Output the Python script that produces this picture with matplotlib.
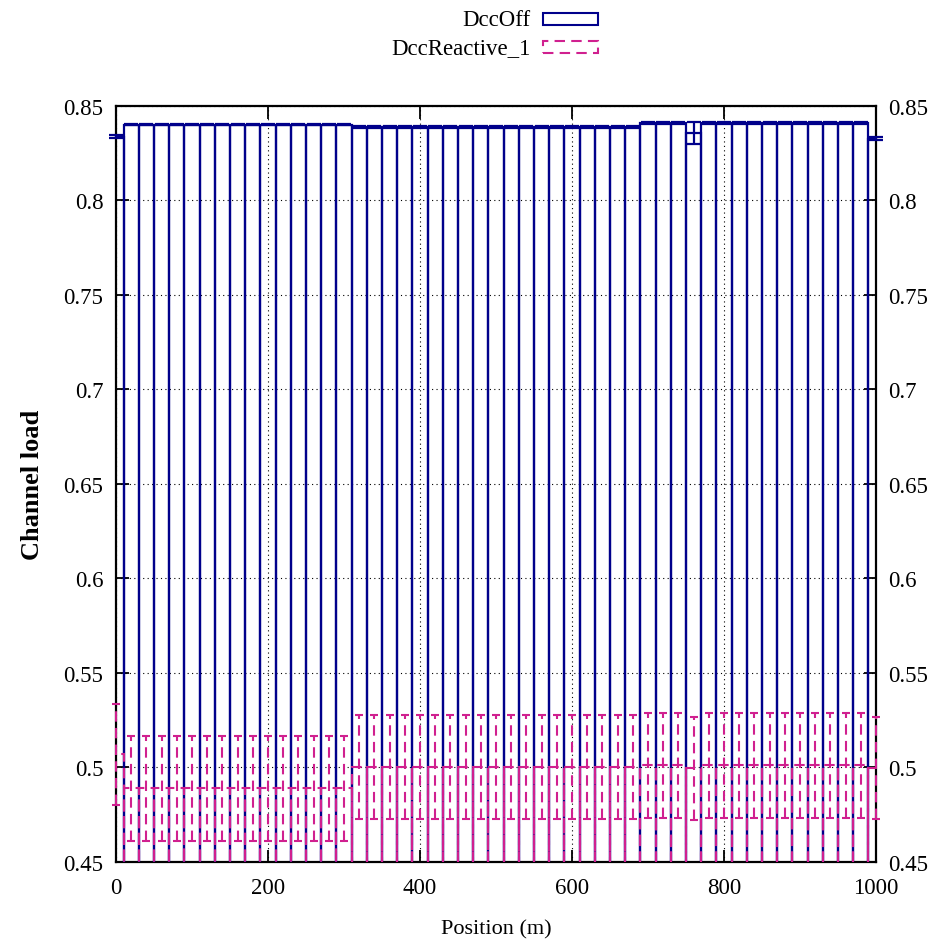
import numpy as np
import matplotlib.pyplot as plt
from matplotlib.patches import Rectangle

plt.rcParams['font.family'] = ['Liberation Serif', 'DejaVu Serif']

# DATA
positions = [0, 20, 40, 60, 80, 100, 120, 140, 160, 180,
             200, 220, 240, 260, 280, 300, 320, 340, 360, 380,
             400, 420, 440, 460, 480, 500, 520, 540, 560, 580,
             600, 620, 640, 660, 680, 700, 720, 740, 760, 780,
             800, 820, 840, 860, 880, 900, 920, 940, 960, 980,
             1000]

dcc_off = [0.8336,
           0.8401, 0.8401, 0.8401, 0.8401, 0.8401, 0.8401, 0.8401, 0.8401,
           0.8401, 0.8401, 0.8401, 0.8401, 0.8401, 0.8401, 0.8401,
           0.8388, 0.8388, 0.8388, 0.8388, 0.8388, 0.8388, 0.8388, 0.8388,
           0.8388, 0.8388, 0.8388, 0.8388, 0.8388, 0.8388, 0.8388, 0.8388,
           0.8388, 0.8388, 0.8388,
           0.8409, 0.8409, 0.8409,
           0.8356,
           0.8409, 0.8409, 0.8409, 0.8409, 0.8409, 0.8409, 0.8409, 0.8409,
           0.8409, 0.8409, 0.8409,
           0.8327]
dcc_off_err = [0.0008,
               0.0004, 0.0004, 0.0004, 0.0004, 0.0004, 0.0004, 0.0004, 0.0004,
               0.0004, 0.0004, 0.0004, 0.0004, 0.0004, 0.0004, 0.0004,
               0.0004, 0.0004, 0.0004, 0.0004, 0.0004, 0.0004, 0.0004, 0.0004,
               0.0004, 0.0004, 0.0004, 0.0004, 0.0004, 0.0004, 0.0004, 0.0004,
               0.0004, 0.0004, 0.0004,
               0.0004, 0.0004, 0.0004,
               0.0058,
               0.0004, 0.0004, 0.0004, 0.0004, 0.0004, 0.0004, 0.0004, 0.0004,
               0.0004, 0.0004, 0.0004,
               0.0008]

dcc_reactive = [0.5070,
                0.4889, 0.4889, 0.4889, 0.4889, 0.4889, 0.4889, 0.4889, 0.4889,
                0.4889, 0.4889, 0.4889, 0.4889, 0.4889, 0.4889, 0.4889,
                0.5002, 0.5002, 0.5002, 0.5002, 0.5002, 0.5002, 0.5002, 0.5002,
                0.5002, 0.5002, 0.5002, 0.5002, 0.5002, 0.5002, 0.5002, 0.5002,
                0.5002, 0.5002, 0.5002,
                0.5012, 0.5012, 0.5012,
                0.4995,
                0.5012, 0.5012, 0.5012, 0.5012, 0.5012, 0.5012, 0.5012, 0.5012,
                0.5012, 0.5012, 0.5012,
                0.4995]
dcc_reactive_err = [0.0267,
                    0.0278, 0.0278, 0.0278, 0.0278, 0.0278, 0.0278, 0.0278, 0.0278,
                    0.0278, 0.0278, 0.0278, 0.0278, 0.0278, 0.0278, 0.0278,
                    0.0274, 0.0274, 0.0274, 0.0274, 0.0274, 0.0274, 0.0274, 0.0274,
                    0.0274, 0.0274, 0.0274, 0.0274, 0.0274, 0.0274, 0.0274, 0.0274,
                    0.0274, 0.0274, 0.0274,
                    0.0277, 0.0277, 0.0277,
                    0.0273,
                    0.0277, 0.0277, 0.0277, 0.0277, 0.0277, 0.0277, 0.0277, 0.0277,
                    0.0277, 0.0277, 0.0277,
                    0.0270]

x_ticks = [0, 200, 400, 600, 800, 1000]
y_ticks = [0.45, 0.5, 0.55, 0.6, 0.65, 0.7, 0.75, 0.8, 0.85]
y_labels = ['0.45', '0.5', '0.55', '0.6', '0.65', '0.7', '0.75', '0.8', '0.85']

blue = '#00008b'
pink = '#d0208f'
dash = (0, (5, 3))
box_w = 20

fig = plt.figure(figsize=(9.33, 9.45), dpi=100)
ax = fig.add_axes([0.1243, 0.0868, 0.8146, 0.8])

# DccOff boxes + error bars
ax.bar(positions, dcc_off, width=box_w, fill=False, edgecolor=blue,
       linewidth=1.6, zorder=3)
eb1 = ax.errorbar(positions, dcc_off, yerr=dcc_off_err, fmt='none',
                  ecolor=blue, elinewidth=1.6, capsize=5, capthick=1.6,
                  zorder=4)
for a in eb1.get_children():
    a.set_clip_on(False)

# DccReactive_1 boxes + error bars (dashed)
ax.bar(positions, dcc_reactive, width=box_w, fill=False, edgecolor=pink,
       linewidth=1.5, linestyle=dash, zorder=5)
eb2 = ax.errorbar(positions, dcc_reactive, yerr=dcc_reactive_err, fmt='none',
                  ecolor=pink, elinewidth=1.5, capsize=3, capthick=1.5,
                  zorder=6)
for lc in eb2[2]:
    lc.set_linestyle(dash)
for a in eb2.get_children():
    a.set_clip_on(False)

ax.set_xlim(0, 1000)
ax.set_ylim(0.45, 0.85)
ax.set_xticks(x_ticks)
ax.set_yticks(y_ticks)
ax.set_yticklabels(y_labels)

ax.grid(True, color='black', linestyle=(0, (1, 3)), linewidth=0.8, zorder=1)
ax.set_axisbelow(True)

ax.tick_params(direction='in', length=9, width=1.3, labelsize=16.5,
               top=True, right=True, labelright=True, pad=9)
ax.tick_params(axis='x', pad=11)
for s in ax.spines.values():
    s.set_linewidth(1.6)

ax.set_xlabel('Position (m)', fontsize=16, labelpad=15)
ax.set_ylabel('Channel load', fontsize=19, fontweight='bold', labelpad=14)

# legend, gnuplot style: text right-aligned, sample box on the right
leg_items = [('DccOff', blue, '-'), ('DccReactive_1', pink, dash)]
for i, (name, col, ls) in enumerate(leg_items):
    yc = 0.9785 - i * 0.0296
    fig.text(0.569, yc, name, ha='right', va='center', fontsize=16.5)
    fig.patches.append(Rectangle((0.582, yc - 0.0063), 0.059, 0.0126,
                                 transform=fig.transFigure, fill=False,
                                 edgecolor=col, linewidth=1.5, linestyle=ls))

plt.savefig('out.png', dpi=100)
